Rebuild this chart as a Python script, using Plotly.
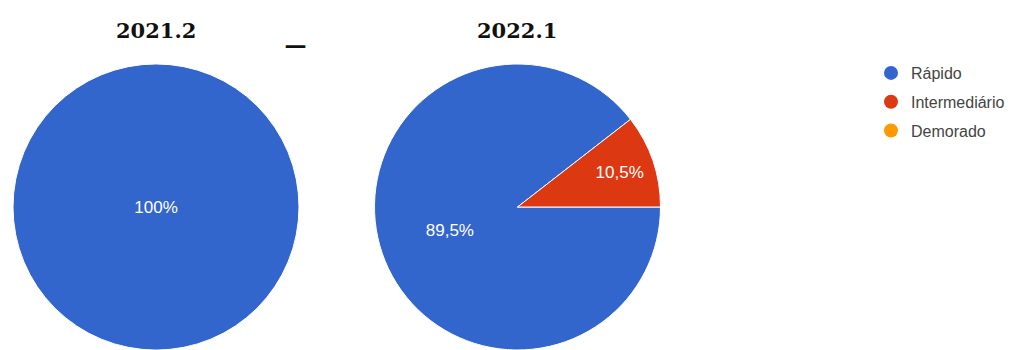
import plotly.graph_objects as go

# ---- data ----
labels = ["Rápido", "Intermediário", "Demorado"]
colors = ["#3366CC", "#DC3912", "#FF9900"]
titles = ["2021.2", "2022.1"]
values_2021_2 = [100, 0, 0]
values_2022_1 = [89.5, 10.5, 0]

W, H = 1029, 350

def nz(vals):
    keep = [i for i, v in enumerate(vals) if v > 0]
    return ([labels[i] for i in keep], [vals[i] for i in keep], [colors[i] for i in keep])

fig = go.Figure()

pie_domains = [
    dict(x=[12 / W, 300 / W], y=[0, 1 - 64 / H]),
    dict(x=[373 / W, 662 / W], y=[0, 1 - 64 / H]),
]
templates = ["%{percent:.0%}", "%{percent:.1%}"]
for vals, dom, tmpl in zip([values_2021_2, values_2022_1], pie_domains, templates):
    l, v, c = nz(vals)
    fig.add_trace(go.Pie(
        labels=l, values=v, sort=False, direction="clockwise", rotation=90,
        marker=dict(colors=c, line=dict(color="white", width=1)),
        texttemplate=tmpl, textposition="inside", insidetextorientation="horizontal",
        textfont=dict(family="Liberation Sans, Arial", size=17, color="white"),
        domain=dom, showlegend=False, hoverinfo="label+percent",
    ))

# legend entries (circle markers)
for i, (lab, col) in enumerate(zip(labels, colors)):
    fig.add_trace(go.Scatter(
        x=[None], y=[None], mode="markers", name=lab, legendgroup=str(i),
        marker=dict(color=col, size=14, symbol="circle"), showlegend=True,
    ))

title_x = [156 / W, 517 / W]
annotations = [
    dict(text=t, x=xx, y=1 - 31 / H, xref="paper", yref="paper", showarrow=False,
         xanchor="center", yanchor="middle",
         font=dict(family="DejaVu Serif", size=21, color="#111111", weight="bold"))
    for t, xx in zip(titles, title_x)
]
annotations.append(dict(text="_", x=295 / W, y=1 - 30 / H, xref="paper", yref="paper",
                        showarrow=False, xanchor="center", yanchor="middle",
                        font=dict(family="Liberation Serif", size=38, color="#111111", weight="bold")))

fig.update_layout(
    width=W, height=H, margin=dict(l=0, r=0, t=0, b=0),
    paper_bgcolor="white", plot_bgcolor="white",
    separators=",.",
    xaxis=dict(visible=False), yaxis=dict(visible=False),
    showlegend=True,
    legend=dict(x=871 / W, y=1 - 56 / H, xanchor="left", yanchor="top",
                font=dict(family="Liberation Sans, Arial", size=16, color="#444444"),
                tracegroupgap=5, bgcolor="rgba(0,0,0,0)"),
    annotations=annotations,
)

fig.write_html("out.html", config={"displayModeBar": False},
               post_script="document.body.style.margin='0px';document.body.style.overflow='hidden';")
